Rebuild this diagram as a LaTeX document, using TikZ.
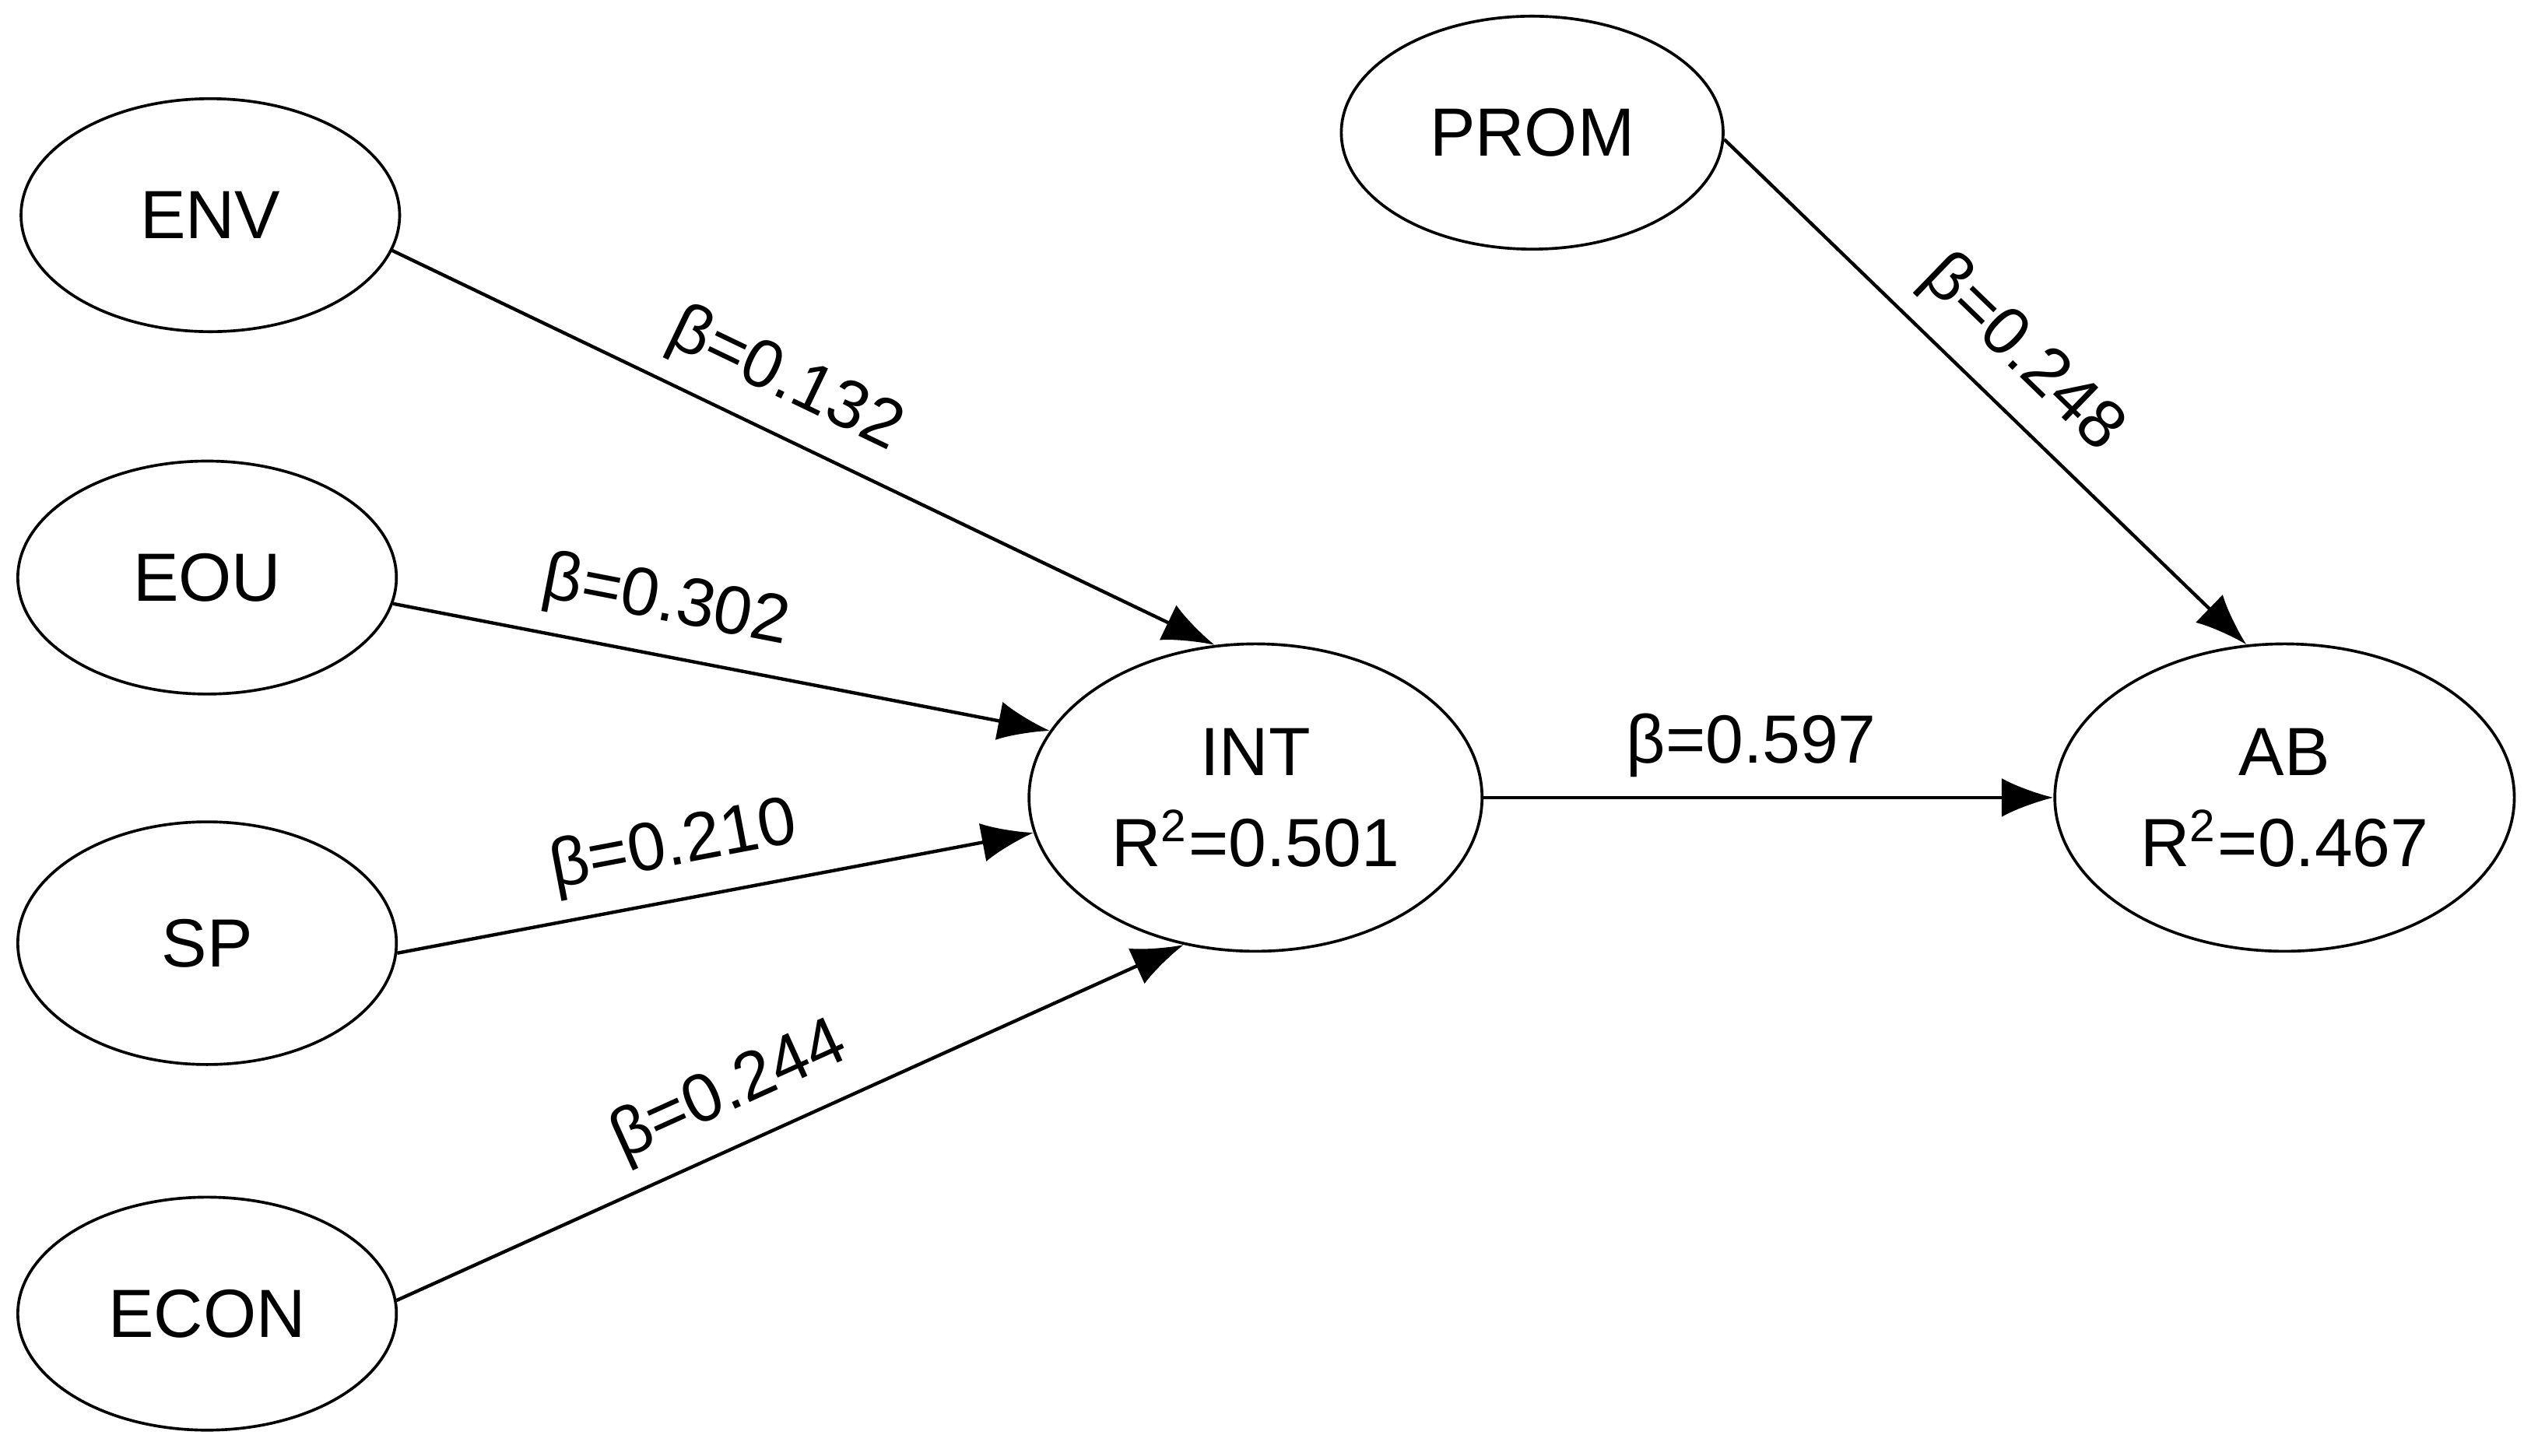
\documentclass[tikz,border=0pt]{standalone}
\usepackage{fontspec}
\setmainfont{Liberation Sans}
\usetikzlibrary{shapes.geometric,arrows.meta}

\begin{document}
\begin{tikzpicture}[
    construct/.style={draw, ellipse, line width=0.5pt, inner sep=0pt, font=\fontsize{12}{14}\selectfont},
    path/.style={-{Latex[length=3.2mm,width=2.4mm]}, line width=0.6pt},
    coef/.style={sloped, above, font=\fontsize{12}{14}\selectfont}]
        \useasboundingbox (0,0) rectangle (15.6,-9.0);
        % exogenous constructs
        \node[construct, minimum width=2.34cm, minimum height=1.44cm] (ENV) at (1.30,-1.33) {ENV};
        \node[construct, minimum width=2.34cm, minimum height=1.44cm] (EOU) at (1.28,-3.57) {EOU};
        \node[construct, minimum width=2.34cm, minimum height=1.50cm] (SP) at (1.28,-5.83) {SP};
        \node[construct, minimum width=2.34cm, minimum height=1.44cm] (ECON) at (1.28,-8.12) {ECON};
        \node[construct, minimum width=2.36cm, minimum height=1.44cm] (PROM) at (9.47,-0.82) {PROM};
        % endogenous constructs
        \node[construct, minimum width=2.80cm, minimum height=1.90cm, align=center] (INT) at (7.76,-4.93) {INT\\[2pt]R\textsuperscript{2}=0.501};
        \node[construct, minimum width=2.84cm, minimum height=1.90cm, align=center] (AB) at (14.12,-4.93) {AB\\[2pt]R\textsuperscript{2}=0.467};

        \draw[path] (ENV.-11) -- node[coef, pos=0.45] {β=0.132} (INT.105);
        \draw[path] (EOU.-8) -- node[coef, pos=0.4] {β=0.302} (INT.162);
        \draw[path] (SP.-3) -- node[coef, pos=0.45] {β=0.210} (INT.189);
        \draw[path] (ECON.4) -- node[coef, pos=0.45] {β=0.244} (INT.244);
        \draw[path] (INT) -- node[coef, pos=0.47] {β=0.597} (AB);
        \draw[path] (PROM.-2) -- node[coef, pos=0.5] {β=0.248} (AB.104);
\end{tikzpicture}
\end{document}
